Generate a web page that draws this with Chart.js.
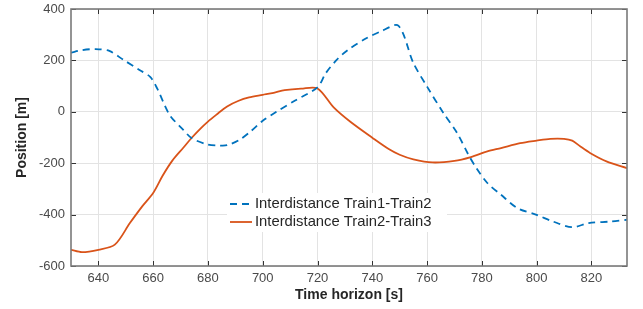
<!DOCTYPE html>
<html>
<head>
<meta charset="utf-8">
<script src="https://cdn.jsdelivr.net/npm/chart.js@4.4.1/dist/chart.umd.min.js"></script>
<style>
  html, body { margin: 0; padding: 0; background: #fff; }
  #wrap { width: 643px; height: 309px; position: relative; }
</style>
</head>
<body>
<div id="wrap"><canvas id="myChart" width="643" height="309"></canvas></div>
<script>
// data
const seriesNames = ['Interdistance Train1-Train2', 'Interdistance Train2-Train3'];

const train12Time = [630, 634, 639, 644, 649, 655, 659, 661.5, 666, 671, 674, 679.5, 684, 687, 691.5, 695.5, 700, 705, 712, 720,
                     723, 727, 731, 738, 743, 749.5, 755, 760, 766, 771, 775, 778, 782, 787, 793, 800, 806, 813, 819, 827, 833];
const train12Value = [230, 240, 244, 237, 203, 163, 135, 90, -12, -70, -102, -126, -131, -130, -109, -77, -35, 0, 45, 95,
                      150, 202, 240, 287, 312, 335, 190, 98, -5, -83, -165, -219, -277, -323, -375, -401, -427, -449, -433, -427, -420];

const train23Time = [630, 634, 640, 646, 651.5, 656, 660, 663.5, 667, 671, 674, 677, 680, 683, 687, 691, 695, 700, 704, 708, 714, 720,
                     726, 732, 740, 746, 750, 755, 762, 770, 776, 782, 787, 794, 800, 805, 810, 813, 816, 819.5, 825.5, 833];
const train23Value = [-537, -546, -537, -517, -433, -368, -316, -248, -190, -140, -102, -68, -38, -12, 21, 42, 56, 66, 74, 84, 90, 91,
                      16, -39, -101, -145, -167, -185, -197, -191, -176, -154, -141, -122, -112, -105, -105, -112, -135, -160, -193, -219];

const xTickValues = [640, 660, 680, 700, 720, 740, 760, 780, 800, 820];
const yTickValues = [-600, -400, -200, 0, 200, 400];

const blue = '#0072BD';
const orange = '#D95319';

function toPoints(xs, ys) {
    return xs.map((x, i) => ({ x: x, y: ys[i] }));
}

// box round the plot with inward ticks, like the original
const framePlugin = {
    id: 'frame',
    afterDatasetsDraw(chart) {
        const ctx = chart.ctx;
        const a = chart.chartArea;
        const xs = chart.scales.x, ys = chart.scales.y;
        ctx.save();
        ctx.strokeStyle = '#333';
        ctx.lineWidth = 1;
        ctx.beginPath();
        xTickValues.forEach(v => {
            const p = Math.round(xs.getPixelForValue(v)) + 0.5;
            ctx.moveTo(p, a.bottom); ctx.lineTo(p, a.bottom - 5);
            ctx.moveTo(p, a.top); ctx.lineTo(p, a.top + 5);
        });
        yTickValues.forEach(v => {
            const p = Math.round(ys.getPixelForValue(v)) + 0.5;
            ctx.moveTo(a.left, p); ctx.lineTo(a.left + 5, p);
            ctx.moveTo(a.right, p); ctx.lineTo(a.right - 5, p);
        });
        ctx.stroke();
        ctx.strokeStyle = '#7a7a7a';
        ctx.lineWidth = 1.6;
        ctx.strokeRect(a.left, a.top, a.right - a.left, a.bottom - a.top);
        ctx.restore();
    }
};

// legend sitting inside the axes
const legendPlugin = {
    id: 'innerLegend',
    afterDatasetsDraw(chart) {
        const ctx = chart.ctx;
        const x0 = 227, y0 = 193;
        ctx.save();
        ctx.fillStyle = '#fff';
        ctx.fillRect(x0, y0, 220, 39);
        ctx.font = '14.8px "Liberation Sans", Arial, sans-serif';
        ctx.textBaseline = 'middle';
        chart.data.datasets.forEach((ds, i) => {
            const y = 204 + i * 18;
            ctx.strokeStyle = ds.borderColor;
            ctx.lineWidth = 1.8;
            ctx.setLineDash(ds.borderDash || []);
            ctx.beginPath();
            ctx.moveTo(230, y); ctx.lineTo(252, y);
            ctx.stroke();
            ctx.setLineDash([]);
            ctx.fillStyle = '#262626';
            ctx.fillText(ds.label, 255, y);
        });
        ctx.restore();
    }
};

const ctx = document.getElementById('myChart').getContext('2d');
const chart = new Chart(ctx, {
    type: 'line',
    data: {
        datasets: [{
            label: seriesNames[0],
            data: toPoints(train12Time, train12Value),
            borderColor: blue,
            borderWidth: 1.8,
            borderDash: [7, 5],
            pointRadius: 0,
            tension: 0.3,
            fill: false
        }, {
            label: seriesNames[1],
            data: toPoints(train23Time, train23Value),
            borderColor: orange,
            borderWidth: 1.8,
            pointRadius: 0,
            tension: 0.3,
            fill: false
        }]
    },
    options: {
        responsive: false,
        animation: false,
        events: [],
        layout: { padding: { left: 0, right: 16, top: 9, bottom: 0 } },
        plugins: {
            legend: { display: false },
            tooltip: { enabled: false }
        },
        scales: {
            x: {
                type: 'linear',
                min: 630,
                max: 833,
                afterBuildTicks: s => { s.ticks = xTickValues.map(v => ({ value: v })); },
                afterFit: s => { s.height = 43; s.paddingLeft = 0; s.paddingRight = 0; },
                grid: { color: '#e3e3e3', drawTicks: false },
                border: { display: false },
                ticks: {
                    padding: 5,
                    color: '#4a4a4a',
                    font: { family: '"Liberation Sans", Arial, sans-serif', size: 13 },
                    maxRotation: 0
                },
                title: {
                    display: true,
                    text: 'Time horizon [s]',
                    color: '#262626',
                    font: { family: '"Liberation Sans", Arial, sans-serif', size: 14, weight: 'bold' },
                    padding: { top: 0, bottom: 5 }
                }
            },
            y: {
                min: -600,
                max: 400,
                afterBuildTicks: s => { s.ticks = yTickValues.map(v => ({ value: v })); },
                afterFit: s => { s.width = 71; s.paddingTop = 0; s.paddingBottom = 0; },
                grid: { color: '#e3e3e3', drawTicks: false },
                border: { display: false },
                ticks: {
                    padding: 6,
                    color: '#4a4a4a',
                    font: { family: '"Liberation Sans", Arial, sans-serif', size: 13 }
                },
                title: {
                    display: true,
                    text: 'Position [m]',
                    color: '#262626',
                    font: { family: '"Liberation Sans", Arial, sans-serif', size: 14, weight: 'bold' },
                    padding: { top: 14, bottom: 0 }
                }
            }
        }
    },
    plugins: [framePlugin, legendPlugin]
});
</script>
</body>
</html>
